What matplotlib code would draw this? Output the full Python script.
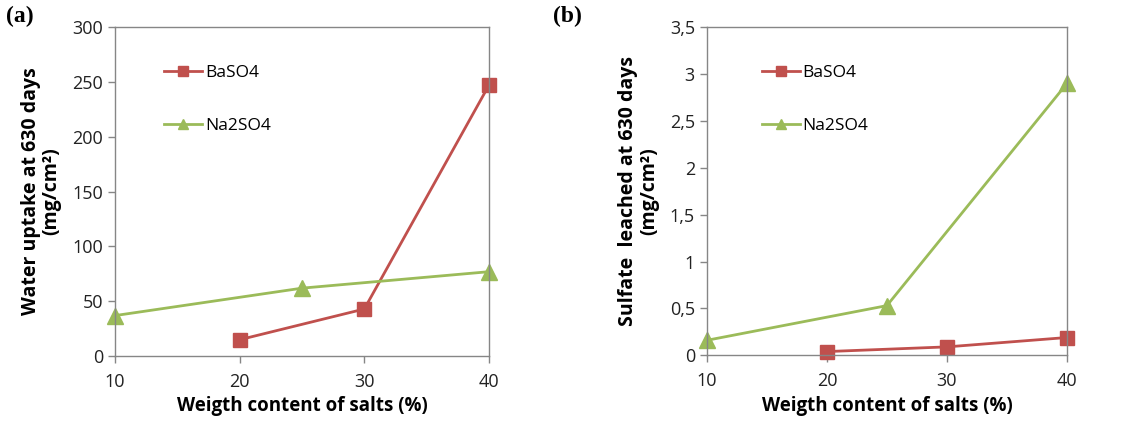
import matplotlib.pyplot as plt

plt.rcParams['font.family'] = ['Open Sans', 'DejaVu Sans']

# panel (a): water uptake
ba_x_a = [20, 30, 40]
ba_y_a = [15, 43, 247]
na_x_a = [10, 25, 40]
na_y_a = [37, 62, 77]

# panel (b): sulfate leached
ba_x_b = [20, 30, 40]
ba_y_b = [0.04, 0.09, 0.19]
na_x_b = [10, 25, 40]
na_y_b = [0.16, 0.53, 2.9]

xticks = [10, 20, 30, 40]
yticks_a = [0, 50, 100, 150, 200, 250, 300]
yticks_b = [0, 0.5, 1, 1.5, 2, 2.5, 3, 3.5]
ylabels_b = ['0', '0,5', '1', '1,5', '2', '2,5', '3', '3,5']

red = '#c0504d'
green = '#9bbb59'
gray = '#868686'

fig = plt.figure(figsize=(11.4, 4.23), dpi=100)
ax1 = fig.add_axes([0.1009, 0.158, 0.328, 0.778])
ax2 = fig.add_axes([0.620, 0.160, 0.316, 0.776])


def style(ax, yticks, ylabels, ymax, ylabel, legx):
    ax.set_xlim(10, 40)
    ax.set_ylim(0, ymax)
    ax.set_xticks(xticks)
    ax.set_yticks(yticks)
    ax.set_yticklabels(ylabels)
    for s in ax.spines.values():
        s.set_color(gray)
        s.set_linewidth(1)
    ax.tick_params(colors=gray, labelcolor='#222222', labelsize=13, length=5, width=1)
    ax.tick_params(axis='x', pad=7)
    ax.set_xlabel('Weigth content of salts (%)', fontsize=13.5, fontweight='bold', labelpad=4)
    ax.set_ylabel(ylabel, fontsize=14, fontweight='bold', labelpad=8, linespacing=1.05)
    ax.legend(loc='upper left', bbox_to_anchor=(legx, 0.906), frameon=False,
              fontsize=12.5, labelspacing=2.1, handlelength=2.2, handletextpad=0.15,
              borderaxespad=0, markerscale=0.65)


ax1.plot(ba_x_a, ba_y_a, color=red, marker='s', markersize=10, linewidth=2, label='BaSO4', clip_on=False)
ax1.plot(na_x_a, na_y_a, color=green, marker='^', markersize=11, linewidth=2, label='Na2SO4', clip_on=False)
style(ax1, yticks_a, [str(v) for v in yticks_a], 300, 'Water uptake at 630 days\n(mg/cm²)', 0.113)

ax2.plot(ba_x_b, ba_y_b, color=red, marker='s', markersize=10, linewidth=2, label='BaSO4', clip_on=False)
ax2.plot(na_x_b, na_y_b, color=green, marker='^', markersize=11, linewidth=2, label='Na2SO4', clip_on=False)
style(ax2, yticks_b, ylabels_b, 3.5, 'Sulfate  leached at 630 days\n(mg/cm²)', 0.133)

fig.text(0.005, 0.985, '(a)', fontsize=17, fontweight='bold', family='Liberation Serif', va='top')
fig.text(0.485, 0.985, '(b)', fontsize=17, fontweight='bold', family='Liberation Serif', va='top')

fig.savefig('out.png', dpi=100)
